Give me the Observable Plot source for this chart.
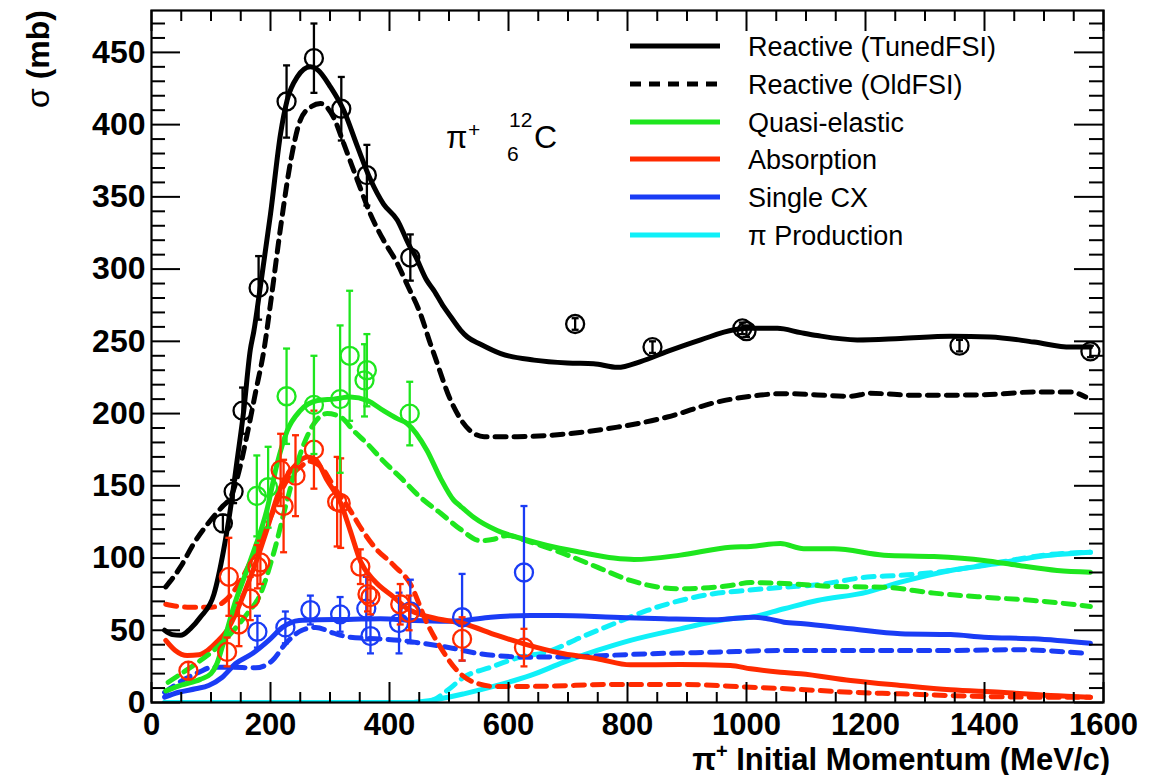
<!DOCTYPE html>
<html><head><meta charset="utf-8">
<script src="https://cdn.jsdelivr.net/npm/d3@7"></script>
<script src="https://cdn.jsdelivr.net/npm/@observablehq/plot@0.6"></script>
<style>body{margin:0;background:#fff;} #chart{width:1153px;height:775px;}</style>
</head><body><div id="chart"></div>
<script>
// ---------- data ----------
const xTickValues = [0, 200, 400, 600, 800, 1000, 1200, 1400, 1600];
const yTickValues = [0, 50, 100, 150, 200, 250, 300, 350, 400, 450];
const legendLabels = ["Reactive (TunedFSI)", "Reactive (OldFSI)", "Quasi-elastic", "Absorption", "Single CX", "\u03c0 Production"];

// model curves [momentum MeV/c, sigma mb]
const reactiveTuned = [[22,50],[35,47],[49,46.5],[65,51],[82,59],[105,75],[121,105],[133,135],[144,168],[155,202],[166,244],[172,257],[183,288],[200,338],[217,394],[228,417],[245,433],[267,440],[279,438],[301,426],[323,410],[346,385],[368,362],[390,345],[413,334],[435,315],[441,311],[463,292],[475,285],[491,274],[503,267],[519,258],[531,253],[553,248],[587,241.5],[643,237],[699,235],[743,234.5],[783,232],[822,236],[867,243],[923,251],[979,258],[1007,259],[1052,259],[1091,256],[1119,254],[1186,251],[1259,252],[1343,253.5],[1410,253],[1483,249.5],[1545,246],[1578,246]];
const reactiveOld = [[24,80],[49,94],[71,110],[99,126],[120,136],[133,142],[147,160],[161,186],[175,215],[189,244],[200,276],[217,329],[234,375],[250,403],[267,412],[284,414.6],[306,405],[323,387],[346,361.5],[368,338],[390,320],[413,304],[430,289],[452,269],[469,248],[475,241],[503,209],[536,188],[559,184],[615,184],[699,186],[783,190.6],[867,197.6],[951,208],[1007,212],[1063,213.8],[1175,212],[1208,214],[1287,212.6],[1399,213],[1483,214.9],[1545,214.9],[1570,211.4]];
const qeTuned = [[24,8],[50,12],[82,16],[100,20],[110,27],[120,40],[138,66],[166,98],[195,135],[211,165],[228,188],[250,202],[279,209],[306,210],[334,211.4],[363,209],[390,202],[413,196.5],[430,193],[463,174.5],[486,155],[508,140],[519,136],[542,128],[581,119],[626,113],[665,108.7],[721,104],[777,100],[811,99],[889,102],[973,107.5],[1007,108],[1057,110],[1096,106.4],[1147,106.4],[1231,102],[1315,101],[1399,98.3],[1455,95],[1522,91.4],[1578,90.2]];
const qeOld = [[28,14],[50,20],[82,29],[110,38],[138,50],[160,61],[183,75],[205,103],[228,140],[250,172],[273,193],[295,200],[318,197.6],[340,188],[363,179],[390,167],[418,156],[452,142],[486,131],[519,120],[553,112],[575,113],[598,115.6],[637,111],[693,103],[749,93.7],[805,84.5],[850,80],[889,78.7],[973,81],[1007,83],[1074,82.2],[1147,80.3],[1231,79.8],[1315,75.7],[1399,72.9],[1483,70.6],[1578,66.5]];
const absTuned = [[24,43],[40,36],[60,32.5],[80,33],[94,36],[110,42],[127,50],[141,61],[155,75],[178,100],[195,121],[217,149],[239,163],[262,170],[276,168],[295,154],[318,138],[334,119],[351,98],[374,84.5],[407,73],[430,65],[469,59],[525,54.5],[581,46.4],[626,40.6],[693,33.7],[749,30.3],[805,26.1],[889,26.3],[973,25.6],[1007,23.3],[1057,21],[1091,19.9],[1175,15.2],[1259,11.8],[1343,8.8],[1427,7.1],[1511,4.8],[1578,3.7]];
const absOld = [[24,68],[60,66],[102,66],[124,70.6],[140,78],[160,92],[180,110],[200,128],[225,152],[250,163],[265,167],[285,163],[310,147],[334,133],[350,122],[374,108],[407,95],[435,82],[463,55],[486,38],[514,22],[542,14],[581,11],[665,11.3],[777,12.5],[889,12.5],[1007,10.6],[1091,9],[1175,7.1],[1259,6],[1343,4.8],[1483,3.7],[1578,3.7]];
const cxTuned = [[22,3.7],[46,7.1],[74,9.5],[96,11.8],[119,17.5],[141,26.8],[169,33.7],[197,43],[220,52],[248,56.8],[281,57.3],[330,57.5],[385,58],[441,56.8],[497,56.3],[525,56.8],[570,59],[637,60.2],[682,60.2],[777,59],[861,58],[945,57.3],[1012,59],[1035,58],[1063,55.6],[1096,54.5],[1175,51],[1259,47.6],[1343,47],[1399,45.2],[1483,44.1],[1578,41]];
const cxOld = [[22,7],[57,16.4],[80,21],[102,24.4],[130,24.4],[175,24],[203,29],[225,40.6],[253,50],[276,52],[306,48],[334,45.2],[385,44],[419,43],[441,41.8],[497,38.3],[553,33.7],[637,31.4],[721,31.9],[833,33.7],[945,34.8],[1057,36],[1175,36],[1343,36],[1455,36.5],[1567,34.1]];
const piTuned = [[22,0],[440,0],[469,1.4],[525,6],[581,11.8],[637,18.7],[693,27.9],[749,36],[805,43],[889,51],[973,58],[1007,59],[1063,64.9],[1119,70.6],[1203,76.4],[1259,83.3],[1343,91.4],[1427,96.5],[1483,100.6],[1578,104]];
const piOld = [[22,0],[455,0],[475,2],[497,8.3],[525,17.5],[570,24.4],[620,31.4],[665,35],[721,45],[777,54.5],[833,63.7],[889,70.6],[945,75.3],[1000,77.6],[1063,79.8],[1119,81.5],[1203,86.8],[1259,88],[1343,91.4],[1427,97.2],[1511,102.5],[1578,104]];

// measured points [momentum, sigma, error]
const reactiveData = [[120,124,6],[138,146,8],[153,202,16],[180,287,22],[227,416,25],[273,446,24],[319,411,22],[362,365,21],[435,308,16],[712,262,4],[842,246,4],[993,259,4],[1000,257,4],[1358,247,4],[1578,243,4]];
const qeData = [[177,143,28],[196,149,28],[227,212,33],[273,206,34],[317,210,51],[333,240,45],[358,223,25],[362,230,25],[434,200,22]];
const absData = [[62,22,6],[127,35,10],[130,87,27],[147,54,15],[166,72,15],[178,94,15],[183,97,15],[217,161,25],[222,136,32],[242,157,28],[273,175,27],[312,139,31],[318,138,31],[351,94,12],[363,75,12],[368,73,12],[418,68,14],[433,62,12],[522,44,15],[626,38,13]];
const cxData = [[178,49,11],[225,52,11],[267,64,10],[317,61,12],[361,65,22],[368,46,12],[416,55,21],[435,63,22],[522,59,30],[626,90,46]];

// ---------- layout / style ----------
const W = 1153, H = 775, mL = 151, mR = 50, mT = 10, mB = 73;
const iW = W - mL - mR, iH = H - mT - mB;
const C = {black: "#000000", green: "#1ee61e", red: "#ff2a00", blue: "#1a3cf5", cyan: "#10f0f8"};
const dash = "11,8";
const LW = 5;
const FONT = "'Liberation Sans', Arial, Helvetica, sans-serif";

const rows = a => a.map(([x, y]) => ({x, y}));
const prow = a => a.map(([x, y, e]) => ({x, y, lo: y - e, hi: y + e}));

const capSymbol = {draw(ctx, size) { const r = Math.sqrt(size / Math.PI); ctx.moveTo(-r, 0); ctx.lineTo(r, 0); }};

function curve(a, color, dashed) {
  return Plot.line(rows(a), {x: "x", y: "y", stroke: color, strokeWidth: LW, strokeDasharray: dashed ? dash : null, curve: "monotone-x", clip: true});
}
function points(a, color) {
  const d = prow(a);
  return [
    Plot.ruleX(d, {x: "x", y1: "lo", y2: "hi", stroke: color, strokeWidth: 2.3, clip: true}),
    Plot.dot(d, {x: "x", y: "lo", symbol: capSymbol, r: 3.5, stroke: color, strokeWidth: 2.3, clip: true}),
    Plot.dot(d, {x: "x", y: "hi", symbol: capSymbol, r: 3.5, stroke: color, strokeWidth: 2.3, clip: true}),
    Plot.dot(d, {x: "x", y: "y", r: 9, stroke: color, strokeWidth: 2.3, fill: "none"})
  ];
}

const xMinor = d3.range(0, 1601, 50).filter(v => v % 200 !== 0);
const yMinor = d3.range(0, 480, 10).filter(v => v % 50 !== 0);

const chart = Plot.plot({
  width: W, height: H,
  marginLeft: mL, marginRight: mR, marginTop: mT, marginBottom: mB,
  x: {domain: [0, 1600], axis: null},
  y: {domain: [0, 479], axis: null},
  style: {fontFamily: FONT, fontSize: "32px", fontWeight: "bold", color: "black", background: "white", overflow: "visible"},
  marks: [
    curve(piOld, C.cyan, true), curve(piTuned, C.cyan, false),
    curve(cxOld, C.blue, true), curve(cxTuned, C.blue, false),
    curve(absOld, C.red, true), curve(absTuned, C.red, false),
    curve(qeOld, C.green, true), curve(qeTuned, C.green, false),
    curve(reactiveOld, C.black, true), curve(reactiveTuned, C.black, false),
    ...points(cxData, C.blue), ...points(absData, C.red), ...points(qeData, C.green), ...points(reactiveData, C.black),
    Plot.ruleX(xTickValues, {x: d => d, insetTop: iH - 20, stroke: "black", strokeWidth: 2}),
    Plot.ruleX(xMinor, {x: d => d, insetTop: iH - 10, stroke: "black", strokeWidth: 2}),
    Plot.ruleX(xTickValues, {x: d => d, insetBottom: iH - 21, stroke: "black", strokeWidth: 2}),
    Plot.ruleX(xMinor, {x: d => d, insetBottom: iH - 11, stroke: "black", strokeWidth: 2}),
    Plot.ruleY(yTickValues, {y: d => d, insetRight: iW - 29, stroke: "black", strokeWidth: 2}),
    Plot.ruleY(yMinor, {y: d => d, insetRight: iW - 14, stroke: "black", strokeWidth: 2}),
    Plot.ruleY(yTickValues, {y: d => d, insetLeft: iW - 29, stroke: "black", strokeWidth: 2}),
    Plot.ruleY(yMinor, {y: d => d, insetLeft: iW - 14, stroke: "black", strokeWidth: 2}),
    Plot.frame({stroke: "black", strokeWidth: 2.2}),
    Plot.axisX(xTickValues, {tickSize: 0, tickPadding: 10, label: null, tickFormat: d => String(d), fontSize: 31, fontWeight: "bold"}),
    Plot.axisY(yTickValues, {tickSize: 0, tickPadding: 6, label: null, tickFormat: d => String(d), fontSize: 32, fontWeight: "bold"})
  ]
});
document.getElementById("chart").appendChild(chart);

// ---------- titles, legend, annotation ----------
const svg = d3.select(chart);
const xt = svg.append("text").attr("x", 1110).attr("y", 770).attr("text-anchor", "end")
  .attr("font-family", FONT).attr("font-size", 31).attr("font-weight", "bold").attr("fill", "black");
xt.append("tspan").text("\u03c0");
xt.append("tspan").attr("font-size", 20).attr("dy", -12).text("+");
xt.append("tspan").attr("dy", 12).text(" Initial Momentum (MeV/c)");

const yt = svg.append("text").attr("transform", "translate(49,10) rotate(-90)").attr("text-anchor", "end")
  .attr("font-family", FONT).attr("font-size", 32).attr("font-weight", "bold").attr("fill", "black");
yt.append("tspan").attr("font-weight", "normal").text("\u03c3");
yt.append("tspan").text(" (mb)");

const legendStyles = [
  {color: C.black, dashed: false}, {color: C.black, dashed: true}, {color: C.green, dashed: false},
  {color: C.red, dashed: false}, {color: C.blue, dashed: false}, {color: C.cyan, dashed: false}
];
const legendRowY = [46, 84, 122, 159, 197, 235];
const lg = svg.append("g");
legendLabels.forEach((lab, i) => {
  const y = legendRowY[i];
  lg.append("line").attr("x1", 630).attr("x2", 720).attr("y1", y).attr("y2", y)
    .attr("stroke", legendStyles[i].color).attr("stroke-width", LW)
    .attr("stroke-dasharray", legendStyles[i].dashed ? dash : null);
  lg.append("text").attr("x", 748).attr("y", y).attr("dy", "0.36em").attr("text-anchor", "start")
    .attr("font-family", FONT).attr("font-size", 27).attr("font-weight", "normal").attr("fill", "black").text(lab);
});

const ann = svg.append("g").attr("font-family", FONT).attr("font-weight", "normal").attr("fill", "black").attr("text-anchor", "start");
ann.append("text").attr("x", 446).attr("y", 148).attr("font-size", 31).text("\u03c0");
ann.append("text").attr("x", 468).attr("y", 137).attr("font-size", 21).text("+");
ann.append("text").attr("x", 509).attr("y", 127).attr("font-size", 21).text("12");
ann.append("text").attr("x", 507).attr("y", 161).attr("font-size", 21).text("6");
ann.append("text").attr("x", 534).attr("y", 148).attr("font-size", 32).text("C");
</script>
</body></html>
